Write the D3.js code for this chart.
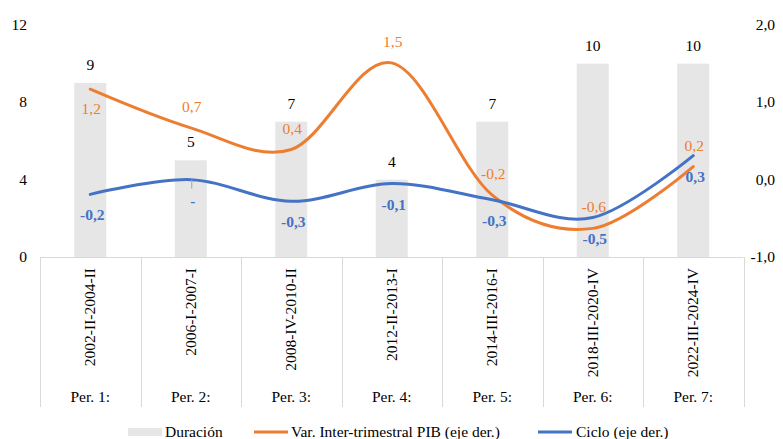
<!DOCTYPE html>
<html>
<head>
<meta charset="utf-8">
<script src="https://cdn.jsdelivr.net/npm/d3@7/dist/d3.min.js"></script>
<style>
  html, body { margin: 0; padding: 0; background: #ffffff; }
  svg { display: block; }
</style>
</head>
<body>
<svg id="chart" width="783" height="439" font-family="Liberation Serif, Times New Roman, serif"></svg>
<script>
// Recession periods (quarters) and their metrics
const periods = ["Per. 1:", "Per. 2:", "Per. 3:", "Per. 4:", "Per. 5:", "Per. 6:", "Per. 7:"];
const spans = ["2002-II-2004-II", "2006-I-2007-I", "2008-IV-2010-II", "2012-II-2013-I",
               "2014-III-2016-I", "2018-III-2020-IV", "2022-III-2024-IV"];
const duracion = [9, 5, 7, 4, 7, 10, 10];
const varPib = [1.17, 0.67, 0.39, 1.51, -0.20, -0.63, 0.17];
const ciclo = [-0.19, 0.00, -0.28, -0.05, -0.26, -0.49, 0.31];
const leftTicks = [0, 4, 8, 12];
const rightTicks = [-1, 0, 1, 2];

const svg = d3.select("#chart");
const m = { left: 40, right: 743.5, top: 25, bottom: 257 };

const x = d3.scaleBand().domain(d3.range(periods.length))
  .range([m.left, m.right]).paddingInner(0).paddingOuter(0);
const yL = d3.scaleLinear().domain([0, 12]).range([m.bottom, m.top]);
const yR = d3.scaleLinear().domain([-1, 2]).range([m.bottom, m.top]);

const comma = s => s.replace(".", ",").replace("\u2212", "-");
const fmt1 = v => Math.abs(v) < 0.05 ? "-" : comma(d3.format(".1f")(v));
const fmtR = v => comma(d3.format(".1f")(v));

const gridColor = "#d9d9d9";
const orange = "#ED7D31", blue = "#4472C4", barColor = "#E7E6E6";
const fs = 15.5;

// Bars: duration
const barW = 32;
svg.append("g").selectAll("rect").data(duracion).join("rect")
  .attr("x", (d, i) => x(i) + x.bandwidth() / 2 - barW / 2)
  .attr("width", barW)
  .attr("y", d => yL(d))
  .attr("height", d => yL(0) - yL(d))
  .attr("fill", barColor);

// Category axis: baseline + separators
const axisG = svg.append("g");
axisG.append("line").attr("x1", m.left).attr("x2", m.right)
  .attr("y1", m.bottom + 0.5).attr("y2", m.bottom + 0.5)
  .attr("stroke", gridColor).attr("stroke-width", 1);
const bounds = d3.range(periods.length + 1).map(i => i < periods.length ? x(i) : m.right);
axisG.selectAll("line.sep").data(bounds).join("line").attr("class", "sep")
  .attr("x1", d => Math.round(d) + 0.5).attr("x2", d => Math.round(d) + 0.5)
  .attr("y1", m.bottom).attr("y2", 407)
  .attr("stroke", gridColor).attr("stroke-width", 1);

// Rotated quarter spans
axisG.selectAll("text.span").data(spans).join("text").attr("class", "span")
  .attr("transform", (d, i) => `translate(${x(i) + x.bandwidth() / 2 + 5},268) rotate(-90)`)
  .attr("text-anchor", "end")
  .attr("font-size", fs).attr("fill", "#000")
  .text(d => d);

// Period names
axisG.selectAll("text.per").data(periods).join("text").attr("class", "per")
  .attr("x", (d, i) => x(i) + x.bandwidth() / 2)
  .attr("y", 402)
  .attr("text-anchor", "middle")
  .attr("font-size", fs).attr("fill", "#000")
  .text(d => d);

// Left axis labels
svg.append("g").selectAll("text").data(leftTicks).join("text")
  .attr("x", 27).attr("y", d => yL(d) + 5)
  .attr("text-anchor", "end").attr("font-size", fs).attr("fill", "#000")
  .text(d => d);

// Right axis labels
svg.append("g").selectAll("text").data(rightTicks).join("text")
  .attr("x", 775).attr("y", d => yR(d) + 5)
  .attr("text-anchor", "end").attr("font-size", fs).attr("fill", "#000")
  .text(d => fmtR(d));

// Smoothed lines
const cx = i => x(i) + x.bandwidth() / 2;
const line = d3.line().x((d, i) => cx(i)).y(d => yR(d)).curve(d3.curveCardinal.tension(0));

svg.append("path").datum(varPib).attr("d", line)
  .attr("fill", "none").attr("stroke", orange).attr("stroke-width", 3).attr("stroke-linecap", "round");
svg.append("path").datum(ciclo).attr("d", line)
  .attr("fill", "none").attr("stroke", blue).attr("stroke-width", 3).attr("stroke-linecap", "round");

// Leader line for the zero-valued cycle label
ciclo.forEach((v, i) => {
  if (Math.abs(v) < 0.05) {
    svg.append("line").attr("x1", cx(i) + 1).attr("x2", cx(i) + 1)
      .attr("y1", yR(v)).attr("y2", yR(v) + 9)
      .attr("stroke", "#a6a6a6").attr("stroke-width", 1);
  }
});

// Bar value labels
svg.append("g").selectAll("text").data(duracion).join("text")
  .attr("x", (d, i) => cx(i)).attr("y", d => yL(d) - 13)
  .attr("text-anchor", "middle").attr("font-size", fs).attr("fill", "#000")
  .text(d => d);

// GDP labels: above the line, except the first which sits below
svg.append("g").selectAll("text").data(varPib).join("text")
  .attr("x", (d, i) => cx(i) + 1)
  .attr("y", (d, i) => i === 0 ? yR(d) + 25 : yR(d) - 16)
  .attr("text-anchor", "middle").attr("font-size", fs).attr("fill", orange)
  .text(d => fmt1(d));

// Cycle labels: below the line, bold
svg.append("g").selectAll("text").data(ciclo).join("text")
  .attr("x", (d, i) => cx(i) + 2)
  .attr("y", d => yR(d) + 26)
  .attr("text-anchor", "middle").attr("font-size", fs).attr("font-weight", "bold").attr("fill", blue)
  .text(d => fmt1(d));

// Legend
const lg = svg.append("g").attr("font-size", fs).attr("fill", "#000");
lg.append("rect").attr("x", 128).attr("y", 428).attr("width", 34).attr("height", 8).attr("fill", barColor);
lg.append("text").attr("x", 165).attr("y", 437).text("Duración");
lg.append("line").attr("x1", 254).attr("x2", 288).attr("y1", 432).attr("y2", 432)
  .attr("stroke", orange).attr("stroke-width", 3);
lg.append("text").attr("x", 291).attr("y", 437).text("Var. Inter-trimestral PIB (eje der.)");
lg.append("line").attr("x1", 538).attr("x2", 572).attr("y1", 432).attr("y2", 432)
  .attr("stroke", blue).attr("stroke-width", 3);
lg.append("text").attr("x", 576).attr("y", 437).text("Ciclo (eje der.)");
</script>
</body>
</html>
